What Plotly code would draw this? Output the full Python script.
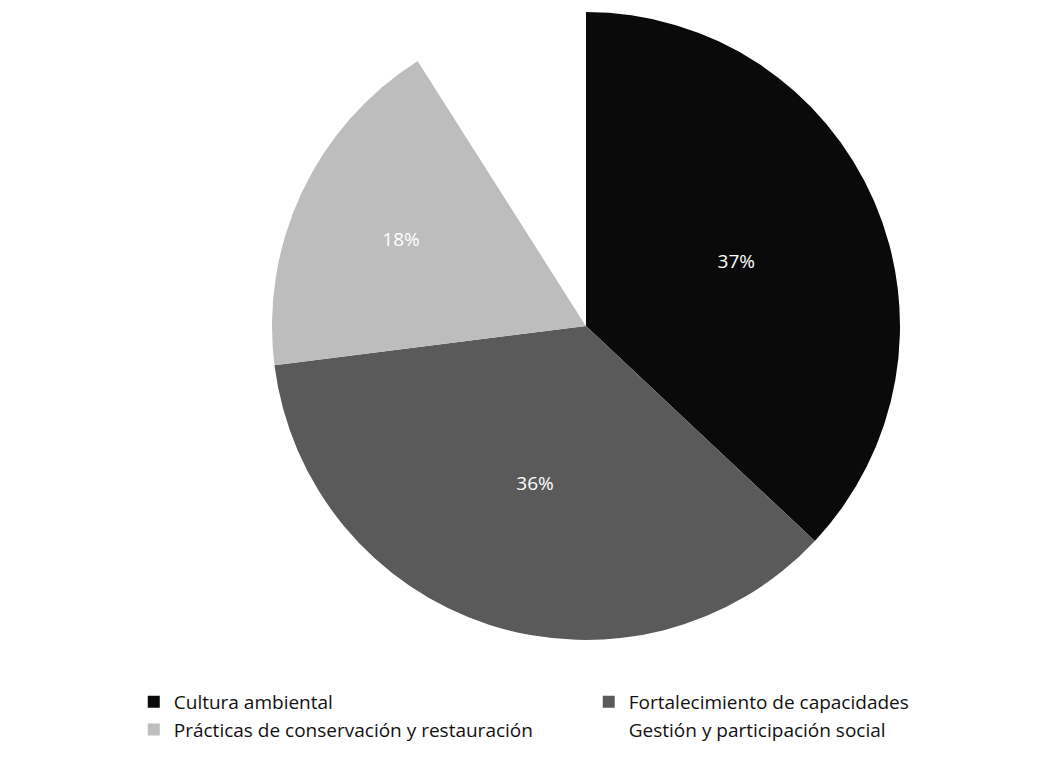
import plotly.graph_objects as go

categories = ["Cultura ambiental", "Fortalecimiento de capacidades",
              "Prácticas de conservación y restauración", "Gestión y participación social"]
values = [37, 36, 18, 9]
colors = ["#0a0a0a", "#5a5a5a", "#bdbdbd", "#ffffff"]
text_colors = ["white", "white", "white", "white"]

W, H = 1048, 775
cx, cy, r = 578, 318, 314

fig = go.Figure(go.Pie(
    labels=categories,
    values=values,
    sort=False,
    direction="clockwise",
    rotation=0,
    marker=dict(colors=colors, line=dict(color="#ffffff", width=0)),
    textinfo="percent",
    texttemplate="%{percent:.0%}",
    textposition="inside",
    insidetextorientation="horizontal",
    textfont=dict(color=text_colors, size=19, family="Open Sans"),
    domain=dict(x=[(cx - r) / W, (cx + r) / W],
                y=[max(0, 1 - (cy + r) / H), min(1, 1 - (cy - r) / H)]),
))

fig.update_layout(
    width=W, height=H,
    margin=dict(l=0, r=0, t=0, b=0),
    paper_bgcolor="white",
    plot_bgcolor="white",
    font=dict(family="Open Sans", size=19, color="#111111"),
    legend=dict(
        orientation="h",
        x=0.12, xanchor="left",
        y=1 - 675 / H, yanchor="top",
        entrywidth=410, entrywidthmode="pixels",
        traceorder="normal",
        font=dict(size=19),
    ),
)

fig.write_html("out.html")
